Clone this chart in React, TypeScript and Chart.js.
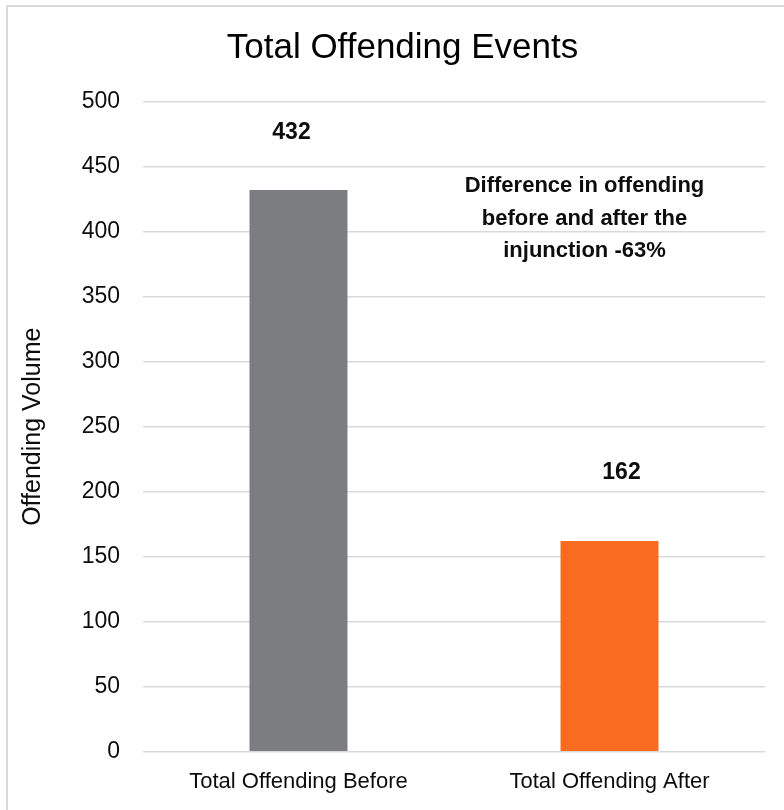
import React, { useEffect, useRef } from 'react';
import { Chart, registerables } from 'chart.js';

Chart.register(...registerables);

const chartTitle = 'Total Offending Events';
const yAxisTitle = 'Offending Volume';
const categories = ['Total Offending Before', 'Total Offending After'];
const values = [432, 162];
const barColors = ['#7C7D81', '#F96B1F'];
const yMin = 0;
const yMax = 500;
const yStep = 50;
const noteLines = ['Difference in offending', 'before and after the', 'injunction -63%'];

const FONT = "'Liberation Sans', Arial, Helvetica, sans-serif";
const TEXT = '#0d0d0d';

const valueLabelPlugin = {
  id: 'valueLabels',
  afterDatasetsDraw(chart: any) {
    const ctx = chart.ctx;
    const meta = chart.getDatasetMeta(0);
    const dx = [-7, 12];
    const dy = [57, 68];
    ctx.save();
    ctx.font = `bold 23px ${FONT}`;
    ctx.fillStyle = TEXT;
    ctx.textAlign = 'center';
    ctx.textBaseline = 'middle';
    meta.data.forEach((bar: any, i: number) => {
      ctx.fillText(String(values[i]), bar.x + dx[i], bar.y - dy[i]);
    });
    ctx.restore();
  },
};

const notePlugin = {
  id: 'note',
  afterDraw(chart: any) {
    const ctx = chart.ctx;
    const xs = chart.scales.x;
    const ys = chart.scales.y;
    const cx = xs.getPixelForValue(1) - 25;
    const cy = ys.getPixelForValue(410);
    const lh = 32.5;
    ctx.save();
    ctx.font = `bold 22px ${FONT}`;
    ctx.fillStyle = TEXT;
    ctx.textAlign = 'center';
    ctx.textBaseline = 'middle';
    noteLines.forEach((t, i) => {
      ctx.fillText(t, cx, cy + (i - 1) * lh);
    });
    ctx.restore();
  },
};

export default function App() {
  const ref = useRef<HTMLCanvasElement | null>(null);

  useEffect(() => {
    if (!ref.current) return;
    const chart = new Chart(ref.current, {
      type: 'bar',
      data: {
        labels: categories,
        datasets: [
          {
            data: values,
            backgroundColor: barColors,
            borderWidth: 0,
            barPercentage: 0.315,
            categoryPercentage: 1,
          },
        ],
      },
      options: {
        responsive: false,
        animation: false,
        devicePixelRatio: 1,
        layout: { padding: { left: 40, right: 19, top: 0, bottom: 0 } },
        plugins: {
          legend: { display: false },
          tooltip: { enabled: false },
          title: {
            display: true,
            text: chartTitle,
            color: '#000',
            font: { family: FONT, size: 35, weight: 'normal' },
            padding: { top: 27.5, bottom: 32.2 },
          },
        },
        scales: {
          x: {
            grid: { display: false, drawTicks: false },
            border: { display: false },
            ticks: {
              color: TEXT,
              font: { family: FONT, size: 22 },
              padding: 17.5,
              maxRotation: 0,
            },
            afterFit(scale: any) {
              scale.height = 58.3;
            },
          },
          y: {
            min: yMin,
            max: yMax,
            grid: { color: '#D9D9D9', lineWidth: 1.5, drawTicks: false },
            border: { display: false },
            ticks: {
              stepSize: yStep,
              color: TEXT,
              font: { family: FONT, size: 23 },
              padding: 23,
            },
            title: {
              display: true,
              text: yAxisTitle,
              color: TEXT,
              font: { family: FONT, size: 25 },
              padding: { top: -22, bottom: 0 },
            },
            afterFit(scale: any) {
              scale.width = 103;
            },
          },
        },
      },
      plugins: [valueLabelPlugin, notePlugin],
    });
    return () => chart.destroy();
  }, []);

  return (
    <div style={{ position: 'absolute', left: 0, top: 0, width: 784, height: 810, overflow: 'hidden', background: '#fff' }}>
      <div
        style={{
          position: 'absolute',
          left: 6,
          top: 5,
          width: 900,
          height: 900,
          borderTop: '2px solid #D9D9D9',
          borderLeft: '2px solid #D9D9D9',
        }}
      />
      <canvas ref={ref} width={784} height={810} style={{ position: 'absolute', left: 0, top: 0, width: 784, height: 810 }} />
    </div>
  );
}
